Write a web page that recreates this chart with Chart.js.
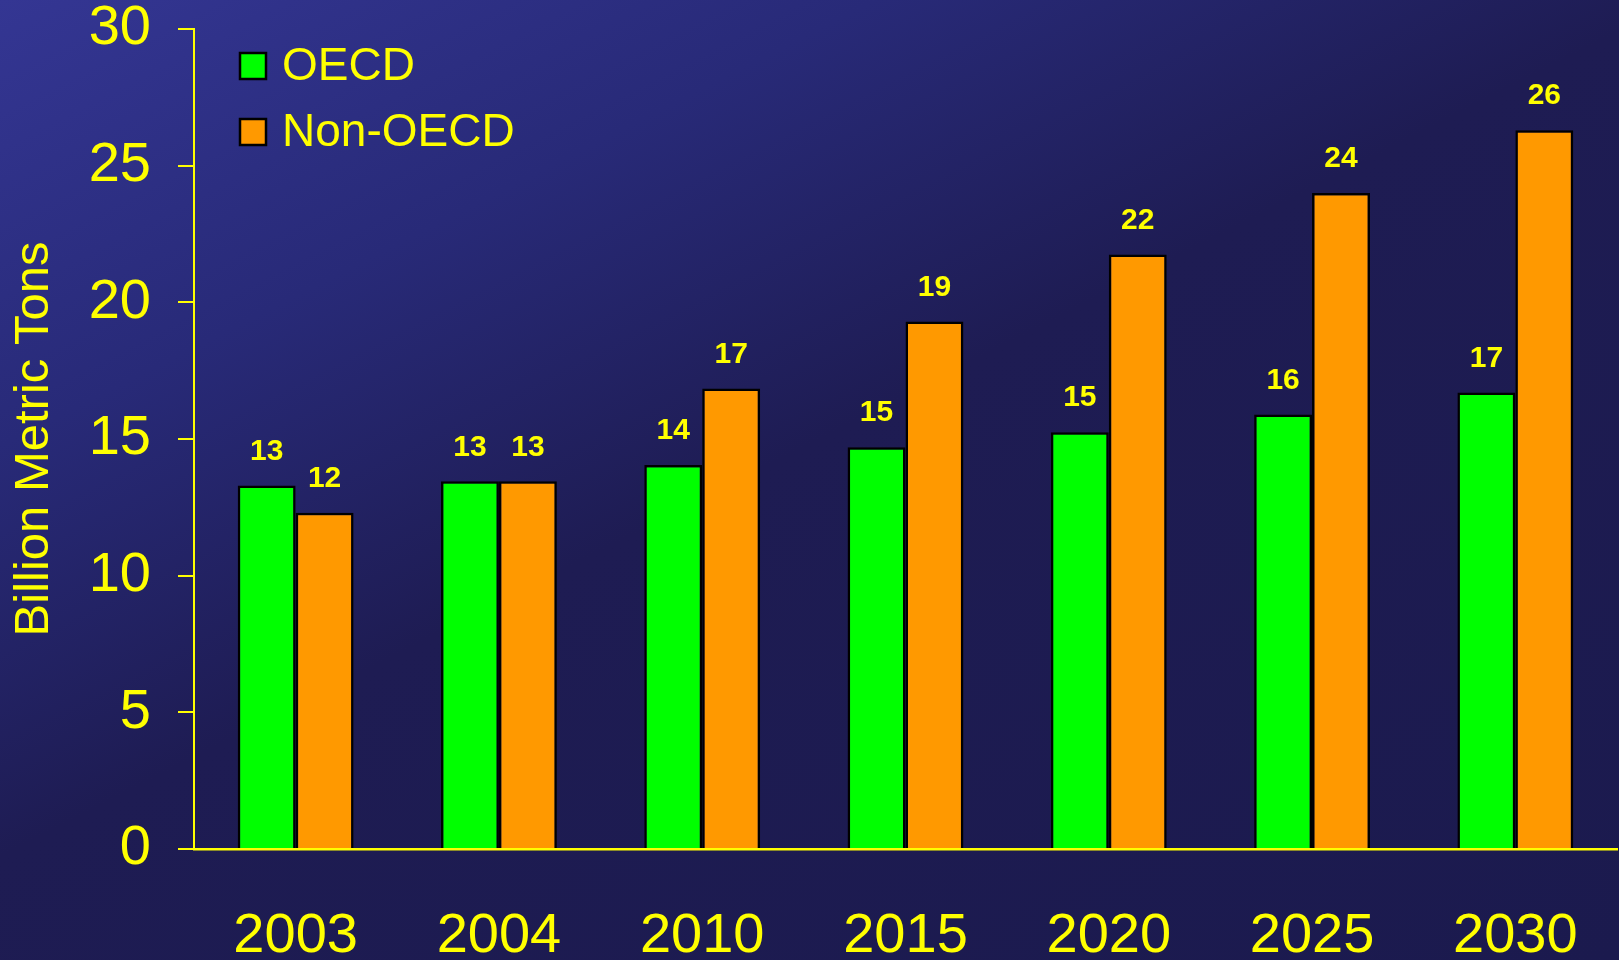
<!DOCTYPE html>
<html>
<head>
<meta charset="utf-8">
<script src="https://cdn.jsdelivr.net/npm/chart.js@4"></script>
<style>
  html, body {
    margin: 0;
    padding: 0;
    width: 1619px;
    height: 960px;
    overflow: hidden;
    background: linear-gradient(153deg, #343693 0%, #282a78 25%, #1e1c53 48%, #1b1a4e 100%);
  }
  #wrap { width: 1619px; height: 960px; }
</style>
</head>
<body>
<div id="wrap"><canvas id="co2Chart" width="1619" height="960"></canvas></div>
<script>
const years = ["2003", "2004", "2010", "2015", "2020", "2025", "2030"];

const oecd = [13.3, 13.45, 14.05, 14.7, 15.25, 15.9, 16.7];
const nonOecd = [12.3, 13.45, 16.85, 19.3, 21.75, 24.0, 26.3];

const oecdLabels = ["13", "13", "14", "15", "15", "16", "17"];
const nonOecdLabels = ["12", "13", "17", "19", "22", "24", "26"];

const yTicks = [0, 5, 10, 15, 20, 25, 30];

const yellow = "#ffff00";
const font = "'Liberation Sans', Arial, sans-serif";

// value labels over each bar
const barLabels = {
    id: "barLabels",
    afterDatasetsDraw(chart) {
        const c = chart.ctx;
        c.save();
        c.fillStyle = yellow;
        c.font = "bold 30px " + font;
        c.textAlign = "center";
        c.textBaseline = "middle";
        chart.data.datasets.forEach((ds, i) => {
            const meta = chart.getDatasetMeta(i);
            meta.data.forEach((bar, j) => {
                c.fillText(ds.valueLabels[j], bar.x, bar.y - 34);
            });
        });
        c.restore();
    }
};

// legend drawn inside the plot, top left
const boxLegend = {
    id: "boxLegend",
    afterDraw(chart) {
        const c = chart.ctx;
        c.save();
        c.font = "46px " + font;
        c.textBaseline = "middle";
        chart.data.datasets.forEach((ds, i) => {
            const cy = 66 + i * 66;
            c.fillStyle = ds.backgroundColor;
            c.fillRect(240, cy - 13, 26, 26);
            c.lineWidth = 2.5;
            c.strokeStyle = "#000";
            c.strokeRect(240, cy - 13, 26, 26);
            c.fillStyle = yellow;
            c.fillText(ds.label, 282, cy + 1);
        });
        c.restore();
    }
};

const ctx = document.getElementById("co2Chart").getContext("2d");

const chart = new Chart(ctx, {
    type: "bar",
    data: {
        labels: years,
        datasets: [{
            label: "OECD",
            data: oecd,
            valueLabels: oecdLabels,
            backgroundColor: "#00ff00",
            borderColor: "#000000",
            borderWidth: 2.5
        }, {
            label: "Non-OECD",
            data: nonOecd,
            valueLabels: nonOecdLabels,
            backgroundColor: "#ff9900",
            borderColor: "#000000",
            borderWidth: 2.5
        }]
    },
    options: {
        responsive: false,
        animation: false,
        devicePixelRatio: 1,
        layout: {
            padding: { top: 0, right: 2, bottom: 0, left: 0 }
        },
        datasets: {
            bar: {
                categoryPercentage: 0.57,
                barPercentage: 1.0
            }
        },
        plugins: {
            legend: { display: false },
            tooltip: { enabled: false }
        },
        scales: {
            x: {
                z: 1,
                grid: { display: false },
                border: { display: true, color: yellow, width: 2.5 },
                ticks: {
                    color: yellow,
                    font: { family: font, size: 56 },
                    padding: 46,
                    maxRotation: 0
                },
                afterFit(scale) {
                    scale.height = 111;
                    scale.paddingLeft = 0;
                    scale.paddingRight = 0;
                }
            },
            y: {
                min: 0,
                max: 30,
                afterBuildTicks(scale) {
                    scale.ticks = yTicks.map(v => ({ value: v }));
                },
                grid: {
                    drawOnChartArea: false,
                    tickLength: 16,
                    color: yellow,
                    lineWidth: 2
                },
                border: { display: true, color: yellow, width: 2 },
                ticks: {
                    color: yellow,
                    font: { family: font, size: 56, lineHeight: 1 },
                    padding: 27
                },
                title: {
                    display: true,
                    text: "Billion Metric Tons",
                    color: yellow,
                    font: { family: font, size: 49 },
                    padding: { top: 5, bottom: 0 }
                },
                afterFit(scale) {
                    scale.width = 194;
                    scale.paddingTop = 29;
                    scale.paddingBottom = 0;
                }
            }
        }
    },
    plugins: [barLabels, boxLegend]
});
</script>
</body>
</html>
